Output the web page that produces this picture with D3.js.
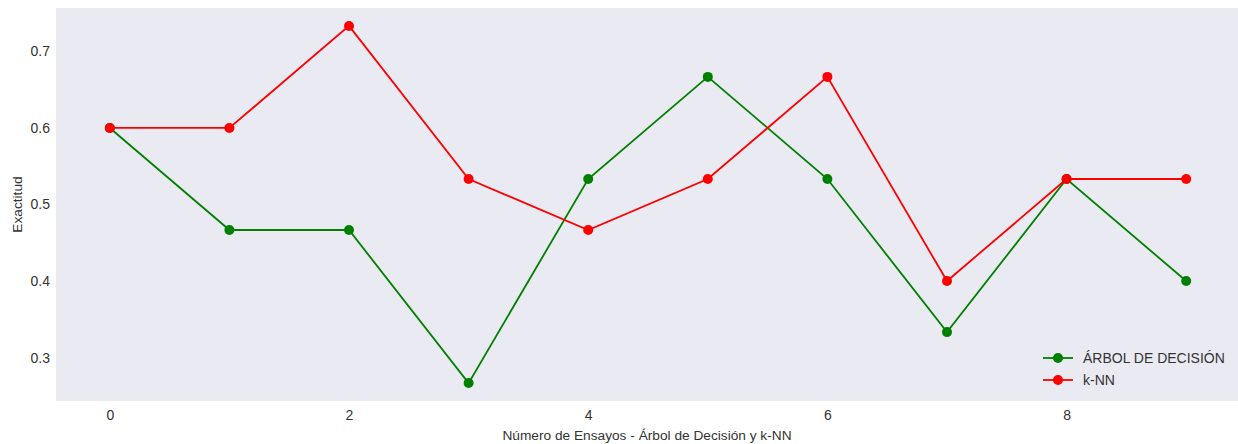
<!DOCTYPE html>
<html>
<head>
<meta charset="utf-8">
<script src="https://cdn.jsdelivr.net/npm/d3@7"></script>
<style>
  html, body { margin: 0; padding: 0; background: #ffffff; }
  svg { display: block; }
  text { font-family: "Liberation Sans", Arial, sans-serif; fill: #333333; }
</style>
</head>
<body>
<svg id="chart" width="1238" height="444"></svg>
<script>
// Trial index on the x axis
const trials = [0, 1, 2, 3, 4, 5, 6, 7, 8, 9];
// Accuracy per trial for each classifier
const treeAccuracy = [0.6, 0.4667, 0.4667, 0.2667, 0.5333, 0.6667, 0.5333, 0.3333, 0.5333, 0.4];
const knnAccuracy  = [0.6, 0.6, 0.7333, 0.5333, 0.4667, 0.5333, 0.6667, 0.4, 0.5333, 0.5333];
const xTicks = [0, 2, 4, 6, 8];
const yTicks = [0.3, 0.4, 0.5, 0.6, 0.7];
const seriesNames = ["ÁRBOL DE DECISIÓN", "k-NN"];
const seriesColors = ["#008000", "#ff0000"];

const svg = d3.select("#chart");
const plot = { left: 56, right: 1240, top: 8, bottom: 401 };

const x = d3.scaleLinear().domain([-0.45, 9.45]).range([plot.left, plot.right]);
const y = d3.scaleLinear().domain([0.2433, 0.7567]).range([plot.bottom, plot.top]);

svg.append("rect")
  .attr("x", plot.left).attr("y", plot.top)
  .attr("width", plot.right - plot.left).attr("height", plot.bottom - plot.top)
  .attr("fill", "#eaeaf2");

// Axes without domain lines or tick marks, labels only
const xAxis = svg.append("g")
  .attr("transform", `translate(0,${plot.bottom})`)
  .call(d3.axisBottom(x).tickValues(xTicks).tickSize(0).tickPadding(9).tickFormat(d3.format("d")));
const yAxis = svg.append("g")
  .attr("transform", `translate(${plot.left},0)`)
  .call(d3.axisLeft(y).tickValues(yTicks).tickSize(0).tickPadding(6).tickFormat(d3.format(".1f")));
[xAxis, yAxis].forEach(g => {
  g.select(".domain").remove();
  g.selectAll("text").style("font-size", "14px").attr("fill", "#333333")
    .style("font-family", "'Liberation Sans', Arial, sans-serif");
});

svg.append("text")
  .attr("x", (plot.left + 1238) / 2).attr("y", 440)
  .attr("text-anchor", "middle").style("font-size", "13.7px")
  .text("Número de Ensayos - Árbol de Decisión y k-NN");

svg.append("text")
  .attr("transform", `translate(22,${(plot.top + plot.bottom) / 2}) rotate(-90)`)
  .attr("text-anchor", "middle").style("font-size", "13.7px")
  .text("Exactitud");

svg.append("clipPath").attr("id", "plotclip")
  .append("rect").attr("x", plot.left).attr("y", plot.top)
  .attr("width", 1238 - plot.left).attr("height", plot.bottom - plot.top);

const line = d3.line().x((d, i) => x(trials[i])).y(d => y(d));
const seriesData = [treeAccuracy, knnAccuracy];

const marks = svg.append("g").attr("clip-path", "url(#plotclip)");
seriesData.forEach((vals, s) => {
  marks.append("path").datum(vals)
    .attr("d", line).attr("fill", "none")
    .attr("stroke", seriesColors[s]).attr("stroke-width", 1.8);
  marks.selectAll(null).data(vals).enter().append("circle")
    .attr("cx", (d, i) => x(trials[i])).attr("cy", d => y(d))
    .attr("r", 5).attr("fill", seriesColors[s]);
});

// Legend in the lower right corner
const legend = svg.append("g");
seriesNames.forEach((name, s) => {
  const ly = 358 + s * 22;
  legend.append("line").attr("x1", 1043).attr("x2", 1073).attr("y1", ly).attr("y2", ly)
    .attr("stroke", seriesColors[s]).attr("stroke-width", 1.8);
  legend.append("circle").attr("cx", 1058).attr("cy", ly).attr("r", 5).attr("fill", seriesColors[s]);
  legend.append("text").attr("x", 1083).attr("y", ly + 5)
    .style("font-size", "14px").text(name);
});
</script>
</body>
</html>
